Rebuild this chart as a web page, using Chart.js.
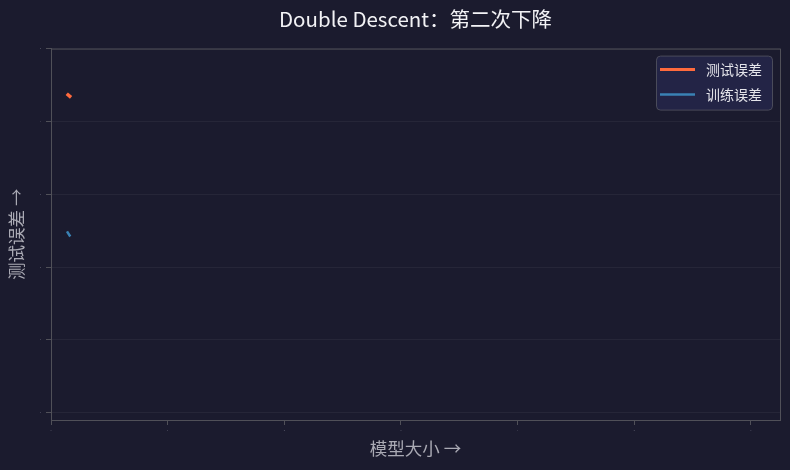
<!DOCTYPE html>
<html>
<head>
<meta charset="utf-8">
<script src="https://cdn.jsdelivr.net/npm/chart.js@4/dist/chart.umd.min.js"></script>
<style>
  html, body { margin: 0; padding: 0; background: #1b1b2e; }
  #wrap { width: 790px; height: 470px; }
</style>
</head>
<body>
<div id="wrap"><canvas id="chart"></canvas></div>
<script>
const FONT = "'Noto Sans CJK SC', 'Noto Sans', sans-serif";

// visible pieces of the curves (model size, error)
const testX = [0.135, 0.172];
const testY = [4.38, 4.33];
const trainX = [0.137, 0.165];
const trainY = [2.49, 2.42];

const seriesLabels = ['测试误差', '训练误差'];
const seriesColors = ['#ff6a3d', '#3a82b4'];
const seriesWidths = [3.5, 2.5];

const xTicks = [0, 1, 2, 3, 4, 5, 6];
const yTicks = [0, 1, 2, 3, 4, 5];

const toPoints = (xs, ys) => xs.map((x, i) => ({ x: x, y: ys[i] }));

// frame around plot + legend box inside plot (top right)
const framePlugin = {
  id: 'frame',
  afterDraw(chart) {
    const { ctx, chartArea: a } = chart;
    ctx.save();
    ctx.strokeStyle = '#505058';
    ctx.lineWidth = 1;
    ctx.strokeRect(a.left + 0.5, a.top + 0.5, a.right - a.left, a.bottom - a.top);

    // legend
    const bx = a.right - 124, by = a.top + 7, bw = 116, bh = 54;
    ctx.beginPath();
    ctx.roundRect(bx + 0.5, by + 0.5, bw, bh, 4);
    ctx.fillStyle = 'rgba(36, 37, 72, 0.95)';
    ctx.fill();
    ctx.strokeStyle = '#4a4b5a';
    ctx.stroke();

    ctx.font = '14px ' + FONT;
    ctx.textBaseline = 'middle';
    chart.data.datasets.forEach((ds, i) => {
      const y = by + 14 + i * 25;
      ctx.beginPath();
      ctx.strokeStyle = ds.borderColor;
      ctx.lineWidth = i === 0 ? 3 : 2.5;
      ctx.moveTo(bx + 4, y);
      ctx.lineTo(bx + 39, y);
      ctx.stroke();
      ctx.fillStyle = '#e4e4ea';
      ctx.fillText(ds.label, bx + 50, y);
    });
    ctx.restore();
  }
};

new Chart(document.getElementById('chart'), {
  type: 'line',
  data: {
    datasets: [
      {
        label: seriesLabels[0],
        data: toPoints(testX, testY),
        borderColor: seriesColors[0],
        borderWidth: seriesWidths[0],
        pointRadius: 0
      },
      {
        label: seriesLabels[1],
        data: toPoints(trainX, trainY),
        borderColor: seriesColors[1],
        borderWidth: seriesWidths[1],
        pointRadius: 0
      }
    ]
  },
  options: {
    responsive: true,
    maintainAspectRatio: false,
    animation: false,
    layout: { padding: { left: 0, right: 10, top: 0, bottom: 0 } },
    scales: {
      x: {
        type: 'linear',
        min: 0,
        max: 6.25,
        afterBuildTicks: (s) => { s.ticks = xTicks.map(v => ({ value: v })); },
        afterFit: (s) => { s.height = 50; },
        grid: { drawOnChartArea: false, color: '#505058', tickLength: 5 },
        border: { color: '#505058' },
        ticks: { color: '#777788', font: { size: 2 }, padding: 4 },
        title: {
          display: true,
          text: '模型大小 →',
          color: '#aaaab4',
          font: { family: FONT, size: 17.5 },
          padding: { top: 4, bottom: 11 }
        }
      },
      y: {
        min: -0.1,
        max: 5,
        afterBuildTicks: (s) => { s.ticks = yTicks.map(v => ({ value: v })); },
        afterFit: (s) => { s.width = 51; },
        grid: { color: 'rgba(255,255,255,0.05)', tickColor: '#505058', tickLength: 5 },
        border: { color: '#505058' },
        ticks: { color: '#777788', font: { size: 2 }, padding: 5 },
        title: {
          display: true,
          text: '测试误差 →',
          color: '#aaaab4',
          font: { family: FONT, size: 17.5 },
          padding: { top: 6, bottom: 0 }
        }
      }
    },
    plugins: {
      legend: { display: false },
      tooltip: { enabled: false },
      title: {
        display: true,
        fullSize: false,
        text: 'Double Descent：第二次下降',
        color: '#f2f2f5',
        font: { family: FONT, size: 20.5, weight: 'normal' },
        padding: { top: 7, bottom: 17 }
      }
    }
  },
  plugins: [framePlugin]
});
</script>
</body>
</html>
